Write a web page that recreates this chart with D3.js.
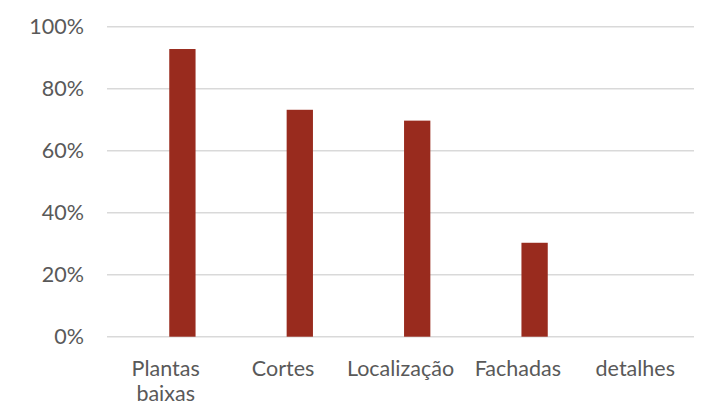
<!DOCTYPE html>
<html>
<head>
<meta charset="utf-8">
<script src="https://cdn.jsdelivr.net/npm/d3@7"></script>
<style>
  html, body { margin: 0; padding: 0; background: #fff; }
  svg { display: block; }
  text { font-family: Lato, "Liberation Sans", sans-serif; fill: #595959; }
</style>
</head>
<body>
<svg id="chart" width="710" height="406"></svg>
<script>
const categories = [["Plantas", "baixas"], ["Cortes"], ["Localização"], ["Fachadas"], ["detalhes"]];
const values = [0.928, 0.732, 0.697, 0.303, 0];
const yTicks = [0, 0.2, 0.4, 0.6, 0.8, 1.0];

const svg = d3.select("#chart");
const plot = { left: 107, right: 694, top: 26.7, bottom: 336.7 };
const keys = categories.map(c => c.join(" "));
const fontSize = 21.5;

const x = d3.scaleBand().domain(keys).range([plot.left, plot.right]).padding(0);
const y = d3.scaleLinear().domain([0, 1]).range([plot.bottom, plot.top]);

// gridlines
svg.append("g")
  .selectAll("line").data(yTicks).join("line")
  .attr("x1", plot.left).attr("x2", plot.right)
  .attr("y1", d => y(d)).attr("y2", d => y(d))
  .attr("stroke", "#d9d9d9").attr("stroke-width", 1.4);

// y axis labels
const yAxis = d3.axisLeft(y).tickValues(yTicks).tickFormat(d3.format(".0%")).tickSize(0).tickPadding(0);
const gy = svg.append("g").attr("transform", `translate(84,0)`).call(yAxis);
gy.select(".domain").remove();
gy.selectAll("text").attr("font-size", fontSize).attr("fill", "#595959")
  .attr("font-family", "Lato, 'Liberation Sans', sans-serif");

// bars (series drawn offset within the category like a clustered chart)
const barWidth = 26.3, barOffset = 16.7;
svg.append("g")
  .selectAll("rect").data(values.map((v, i) => ({ k: keys[i], v })).filter(d => d.v > 0)).join("rect")
  .attr("x", d => x(d.k) + x.bandwidth() / 2 + barOffset - barWidth / 2)
  .attr("width", barWidth)
  .attr("y", d => y(d.v))
  .attr("height", d => y(0) - y(d.v))
  .attr("fill", "#992b1e");

// x labels
const xl = svg.append("g");
categories.forEach((lines, i) => {
  const t = xl.append("text")
    .attr("x", x(keys[i]) + x.bandwidth() / 2)
    .attr("y", 375.5)
    .attr("text-anchor", "middle")
    .attr("font-size", fontSize);
  lines.forEach((ln, j) => {
    t.append("tspan").attr("x", x(keys[i]) + x.bandwidth() / 2).attr("dy", j === 0 ? 0 : 25.5).text(ln);
  });
});
</script>
</body>
</html>
